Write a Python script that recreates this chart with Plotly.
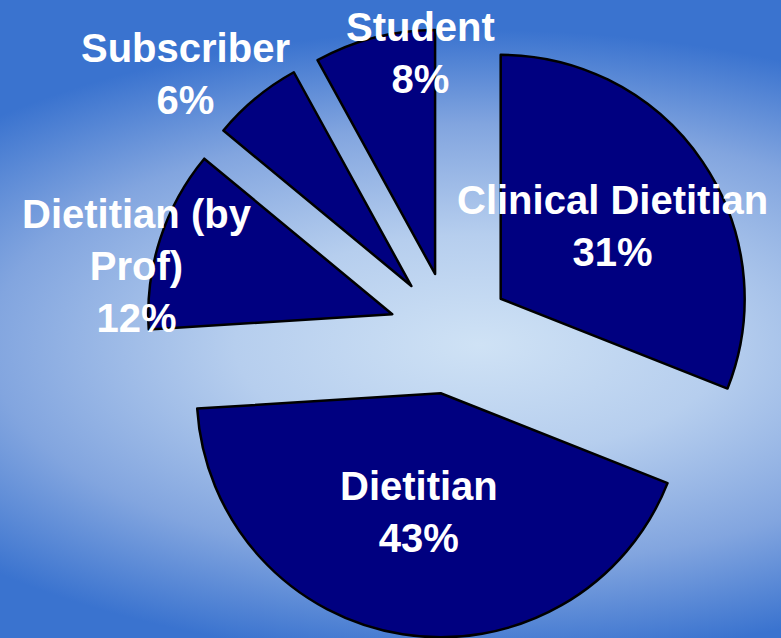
import base64
import plotly.graph_objects as go

# data
labels = ["Clinical Dietitian", "Dietitian", "Dietitian (by Prof)", "Subscriber", "Student"]
values = [31, 43, 12, 6, 8]

# label centres in pixels (figure is 781 x 638)
W, H = 781, 638
label_pos = [(612, 226), (419, 512), (137, 266), (185, 74), (420, 53)]

# background: blue radial gradient, drawn as an svg image
svg = f"""<svg xmlns='http://www.w3.org/2000/svg' width='{W}' height='{H}'>
<defs><radialGradient id='g' gradientUnits='userSpaceOnUse' cx='0' cy='0' r='1'
 gradientTransform='translate(480 345) scale(700 315)'>
<stop offset='0' stop-color='#cfe2f5'/>
<stop offset='0.35' stop-color='#b6ceee'/>
<stop offset='0.7' stop-color='#82a5df'/>
<stop offset='1' stop-color='#3a73cf'/>
</radialGradient></defs>
<rect width='{W}' height='{H}' fill='url(#g)'/></svg>"""
bg = "data:image/svg+xml;base64," + base64.b64encode(svg.encode()).decode()

fig = go.Figure()
fig.add_trace(go.Pie(
    labels=labels,
    values=values,
    sort=False,
    direction="clockwise",
    rotation=0,
    pull=[0.25] * len(values),
    marker=dict(colors=["#000080"] * len(values), line=dict(color="black", width=2.5)),
    textinfo="none",
    showlegend=False,
    domain=dict(x=[0.186, 0.967], y=[0.0, 0.956]),
))

for lab, val, (px, py) in zip(labels, values, label_pos):
    txt = lab.replace("(by ", "(by<br>") + f"<br>{val}%"
    fig.add_annotation(
        x=px / W, y=1 - py / H, xref="paper", yref="paper",
        text=txt, showarrow=False, xanchor="center", yanchor="middle",
        font=dict(family="Liberation Sans, Arial", size=40, color="white", weight="bold"),
    )

fig.update_layout(
    width=W, height=H,
    margin=dict(l=0, r=0, t=0, b=0),
    paper_bgcolor="#3a73cf",
    plot_bgcolor="rgba(0,0,0,0)",
    images=[dict(source=bg, xref="paper", yref="paper", x=0, y=1, sizex=1, sizey=1,
                 xanchor="left", yanchor="top", sizing="stretch", layer="below")],
)

# page body has a default 8px margin, drop it so the chart fills the window
fig.write_html("out.html", config={"displayModeBar": False},
               post_script="document.body.style.margin='0';document.body.style.overflow='hidden';")
